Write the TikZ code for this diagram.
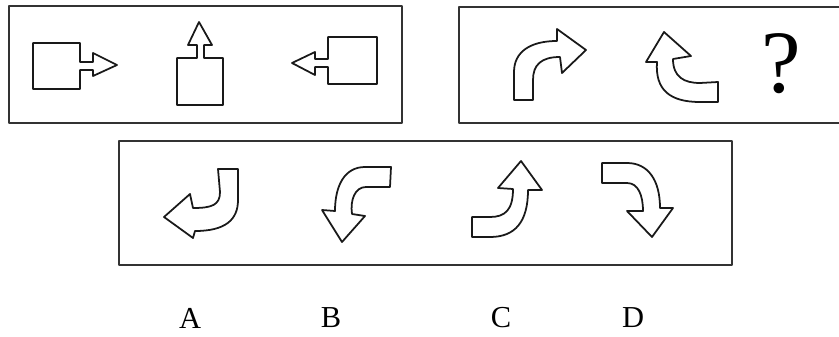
\documentclass[tikz,border=0pt]{standalone}
\usepackage{fontspec}
\setmainfont{Liberation Serif}

\begin{document}
\begin{tikzpicture}[x=0.03cm, y=-0.03cm, line join=round,
  panel/.style={line width=1.7pt, draw=black!80},
  figure/.style={line width=1.5pt, draw=black!90},
  letter/.style={font=\fontsize{26}{28}\selectfont}]
\useasboundingbox (0,0) rectangle (839,337);

% Panels
\draw[panel] (9,6) rectangle (402,123);
\draw[panel] (845,7) -- (459,7) -- (459,123) -- (845,123);
\draw[panel] (119,141) rectangle (732,265);

% Top left: squares with straight arrows
\draw[figure] (80,62) -- (80,43) -- (33,43) -- (33,89) -- (80,89) -- (80,70)
  -- (93,70) -- (93,76) -- (117,65) -- (93,53) -- (93,62) -- cycle;
\draw[figure] (197,58) -- (177,58) -- (177,105) -- (223,105) -- (223,58) -- (204,58)
  -- (204,45) -- (212,45) -- (199,22) -- (188,45) -- (197,45) -- cycle;
\draw[figure] (328,59) -- (328,37) -- (377,37) -- (377,84) -- (328,84) -- (328,67)
  -- (315,67) -- (315,75) -- (292,63) -- (315,52) -- (315,59) -- cycle;

% Top right: curved arrows and the question
\draw[figure] (514,100) -- (514,72) .. controls (514,52) and (530,41) .. (557,41)
  -- (557,29) -- (586,50) -- (562,73) -- (560,57)
  .. controls (541,57) and (533,65) .. (533,80) -- (533,100) -- cycle;
\draw[figure] (657,62) .. controls (655,90) and (670,102) .. (700,102) -- (718,102)
  -- (718,82) -- (700,83) .. controls (684,83) and (673,77) .. (673,59)
  -- (691,56) -- (664,32) -- (646,62) -- cycle;
\node[font=\fontsize{76}{80}\selectfont, inner sep=0pt] (query) at (781,64) {?};

% Bottom: the four options
\draw[figure] (218,169) -- (238,169) -- (238,200) .. controls (238,220) and (225,231) .. (195,231)
  -- (193,238) -- (164,217) -- (190,194) -- (193,208)
  .. controls (212,208) and (220,205) .. (220,192) -- (218,169) -- cycle;
\draw[figure] (391,167) -- (365,167) .. controls (345,167) and (335,185) .. (335,211)
  -- (322,210) -- (342,242) -- (365,216) -- (352,214)
  .. controls (350,200) and (355,187) .. (366,187) -- (390,187) -- cycle;
\draw[figure] (472,217) -- (490,217) .. controls (505,217) and (513,210) .. (513,189)
  -- (498,188) -- (521,161) -- (542,190) -- (528,190)
  .. controls (528,222) and (515,237) .. (490,237) -- (472,237) -- cycle;
\draw[figure] (602,163) -- (627,163) .. controls (648,163) and (660,180) .. (660,208)
  -- (673,208) -- (652,237) -- (627,211) -- (643,211)
  .. controls (643,195) and (638,183) .. (627,183) -- (602,183) -- cycle;

% Option letters
\node[letter] (optA) at (190,318) {A};
\node[letter] (optB) at (331,318) {B};
\node[letter] (optC) at (501,318) {C};
\node[letter] (optD) at (633,318) {D};

\end{tikzpicture}
\end{document}
